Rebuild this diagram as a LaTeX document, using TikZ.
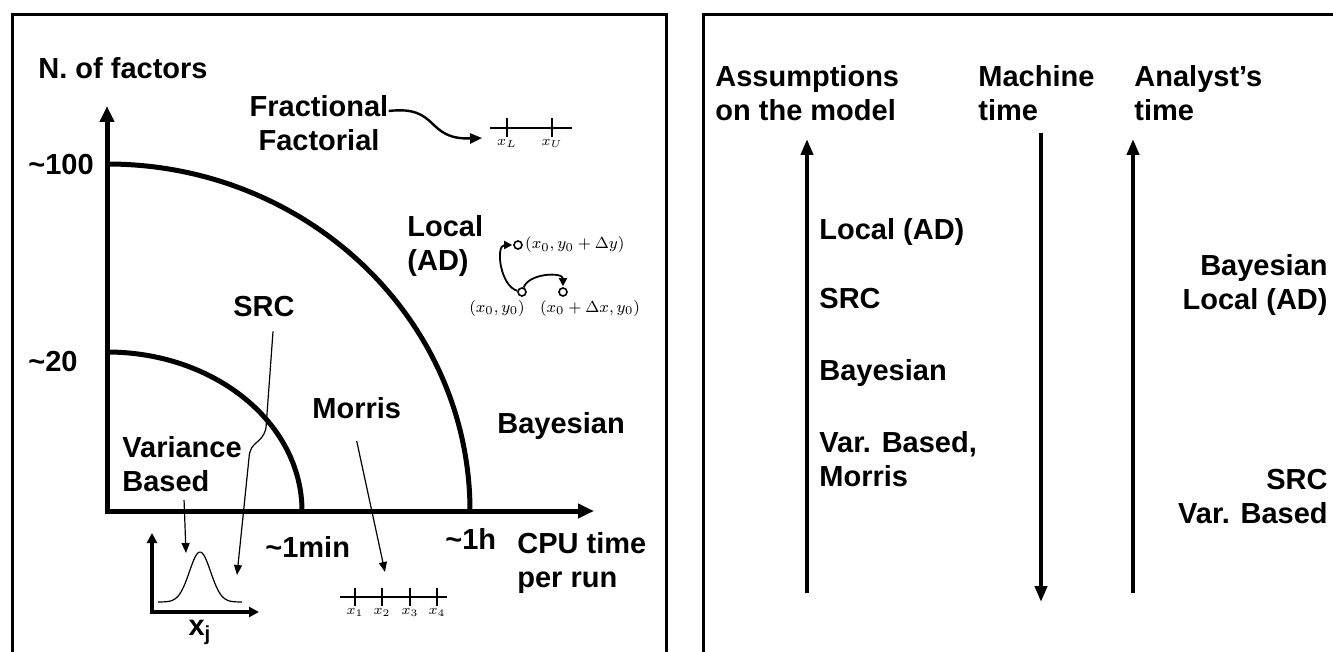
\documentclass[tikz,border=0pt]{standalone}
\usepackage[no-math]{fontspec}
\setmainfont{Liberation Sans}
\usetikzlibrary{arrows.meta}

\tikzset{
  txt/.style={font=\fontsize{14.5}{17}\selectfont\bfseries, inner sep=0pt, align=left, anchor=north west},
  rtxt/.style={txt, align=right, anchor=north east},
  frame/.style={line width=1.5pt},
  axis/.style={line width=2.5pt, line join=miter, {Triangle[length=8pt,width=7pt]}-{Triangle[length=8pt,width=7pt]}},
  bound/.style={line width=2.5pt},
  bigarr/.style={line width=2pt, -{Triangle[length=8pt,width=6pt]}},
  thinarr/.style={line width=0.6pt, -{Triangle[length=5pt,width=4pt]}},
  tickline/.style={line width=0.9pt},
  ticklbl/.style={font=\scriptsize, inner sep=1pt, below},
  pt/.style={circle, draw, fill=white, line width=0.8pt, minimum size=4pt, inner sep=0pt},
  dgarr/.style={line width=0.9pt, -{Triangle[length=4pt,width=4pt]}, shorten >=0.5pt},
  dlbl/.style={font=\footnotesize, inner sep=1pt},
}

\begin{document}
\begin{tikzpicture}[x=0.5pt, y=-0.5pt, line cap=butt]
\useasboundingbox (0,0) rectangle (1333,652);

% frames
\draw[frame] (12,660) -- (12,15) -- (666,15) -- (666,660);
\draw[frame] (703,660) -- (703,15) -- (1345,15);

%%% left panel
\coordinate (o) at (107,511);
\coordinate (ytop) at (107,106);
\coordinate (xend) at (594,511);
\draw[axis] (ytop) -- (o) -- (xend);
\draw[bound] (107,164) arc[start angle=-90, end angle=0, x radius=363, y radius=347];
\draw[bound] (107,352) arc[start angle=-90, end angle=0, x radius=195, y radius=159];

\node[txt] (nf) at (38,57) {N. of factors};
\node[txt] (t100) at (28,154) {\textasciitilde100};
\node[txt] (t20) at (28,351) {\textasciitilde20};
\node[txt, align=center, anchor=north] (frac) at (319,95) {Fractional\\Factorial};
\node[txt] (local) at (407,215) {Local\\(AD)};
\node[txt] (src) at (233,296) {SRC};
\node[txt] (morris) at (312,397) {Morris};
\node[txt] (bayes) at (497,412) {Bayesian};
\node[txt] (var) at (122,436) {Variance\\Based};
\node[txt] (tmin) at (265,536) {\textasciitilde1min};
\node[txt] (th) at (445,528) {\textasciitilde1h};
\node[txt] (cpu) at (517,532) {CPU time\\per run};
\node[txt, anchor=north] (xj) at (200,620) {x\textsubscript{j}};

% fractional factorial
\coordinate (fracend) at (482,138);
\draw[line width=1.2pt, -{Triangle[length=6pt,width=5pt]}] ([yshift=-8pt]frac.north east) .. controls (440,105) and (425,140) .. (fracend);
\draw[tickline] (490,128) -- (572,128);
\draw[tickline] (507,118) -- (507,137) node[ticklbl] (fl) {$x_L$};
\draw[tickline] (552,118) -- (552,137) node[ticklbl] (fu) {$x_U$};

% local derivative
\node[pt] (py) at (518,245) {};
\node[pt] (p0) at (522,292) {};
\node[pt] (px) at (563,292) {};
\draw[dgarr] (p0) to[out=165, in=180] (py);
\draw[dgarr] (p0) to[out=70, in=90] (px);
\node[dlbl, anchor=west] (lpy) at (py.east) {$(x_0,y_0+\Delta y)$};
\node[dlbl, anchor=north] (lp0) at (497,298) {$(x_0,y_0)$};
\node[dlbl, anchor=north] (lpx) at (590,298) {$(x_0+\Delta x,y_0)$};

% variance based
\coordinate (go) at (152,612);
\coordinate (gyt) at (152,533);
\coordinate (gxe) at (259,612);
\draw[line width=1.8pt, line join=miter, {Triangle[length=5pt,width=5pt]}-{Triangle[length=5pt,width=5pt]}] (gyt) -- (go) -- (gxe);
\draw[line width=0.6pt] plot[domain=158:242, samples=60, smooth] (\x, {602-50*exp(-((\x-200)/15)^2)});
\coordinate (varend) at (186,553);
\draw[thinarr] ([shift={(1pt,-4pt)}]var.south) -- (varend);

% SRC
\coordinate (srcend) at (237,575);
\draw[thinarr] ([shift={(4.5pt,-7pt)}]src.south) -- (266,428) .. controls (262,445) and (250,440) .. (249,458) -- (srcend);

% Morris
\coordinate (morrisend) at (385,572);
\draw[thinarr] ([yshift=-11pt]morris.south) -- (morrisend);
\draw[tickline] (340,597) -- (447,597);
\foreach \k/\xx in {1/355,2/382,3/410,4/437}
  \draw[tickline] (\xx,588) -- (\xx,606) node[ticklbl] (m\k) {$x_{\k}$};

%%% right panel
\node[txt] (assum) at (715,65) {Assumptions\\on the model};
\node[txt] (mach) at (978,65) {Machine\\time};
\node[txt] (anal) at (1134,65) {Analyst's\\time};

\coordinate (a1b) at (807,593);
\coordinate (a1t) at (807,139);
\coordinate (a2t) at (1041,133);
\coordinate (a2b) at (1041,602);
\coordinate (a3b) at (1133,593);
\coordinate (a3t) at (1133,139);
\draw[bigarr] (a1b) -- (a1t);
\draw[bigarr] (a2t) -- (a2b);
\draw[bigarr] (a3b) -- (a3t);

\node[txt] (l1) at (819,218) {Local (AD)};
\node[txt] (l2) at (819,288) {SRC};
\node[txt] (l3) at (819,359) {Bayesian};
\node[txt] (l4) at (819,431) {Var. Based,\\Morris};
\node[rtxt] (r1) at (1328,254) {Bayesian\\Local (AD)};
\node[rtxt] (r2) at (1328,469) {SRC\\Var. Based};
\end{tikzpicture}
\end{document}
